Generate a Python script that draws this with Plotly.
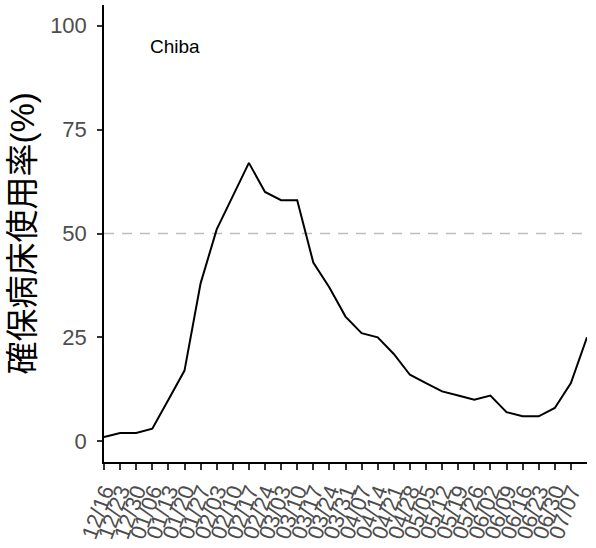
import plotly.graph_objects as go

# weekly bed occupancy, Chiba
dates = [
    "2021-12-16", "2021-12-23", "2021-12-30", "2022-01-06", "2022-01-13",
    "2022-01-20", "2022-01-27", "2022-02-03", "2022-02-10", "2022-02-17",
    "2022-02-24", "2022-03-03", "2022-03-10", "2022-03-17", "2022-03-24",
    "2022-03-31", "2022-04-07", "2022-04-14", "2022-04-21", "2022-04-28",
    "2022-05-05", "2022-05-12", "2022-05-19", "2022-05-26", "2022-06-02",
    "2022-06-09", "2022-06-16", "2022-06-23", "2022-06-30", "2022-07-07",
    "2022-07-14",
]
occupancy = [1, 2, 2, 3, 10, 17, 38, 51, 59, 67,
             60, 58, 58, 43, 37, 30, 26, 25, 21, 16,
             14, 12, 11, 10, 11, 7, 6, 6, 8, 14, 25]

tick_dates = dates[:30]
tick_text = [d[5:7] + "/" + d[8:10] for d in tick_dates]
y_ticks = [0, 25, 50, 75, 100]

FONT = "Liberation Sans, Arial, Noto Sans CJK JP"

fig = go.Figure()
fig.add_trace(go.Scatter(
    x=dates, y=occupancy,
    mode="lines",
    line=dict(color="black", width=2),
    hoverinfo="skip",
    cliponaxis=False,
))

# 50% reference line
fig.add_hline(y=50, line=dict(color="#BEBEBE", width=1.5, dash="10px,8px"), layer="below")

fig.add_annotation(
    x="2022-01-16", y=95, text="Chiba", showarrow=False,
    font=dict(family=FONT, size=19, color="black"),
)

# y title as annotation so it sits where ggplot put it
fig.add_annotation(
    xref="paper", yref="paper", x=-82 / 483, y=0.5,
    xanchor="center", yanchor="middle", textangle=-90,
    text="確保病床使用率(%)", showarrow=False,
    font=dict(family=FONT, size=33, color="black"),
)

fig.update_layout(
    width=596, height=548,
    margin=dict(l=104, r=9, t=5, b=86, autoexpand=False),
    plot_bgcolor="white", paper_bgcolor="white",
    showlegend=False,
    font=dict(family=FONT),
)
fig.update_xaxes(
    type="date",
    range=["2021-12-16 00:00", "2022-07-14 00:00"],
    autorange=False,
    automargin=False,
    tickvals=tick_dates, ticktext=tick_text,
    tickangle=-70,
    tickfont=dict(family=FONT, size=22, color="#4D4D4D"),
    ticks="outside", ticklen=6, tickwidth=1.5, tickcolor="#333333",
    showline=True, linecolor="black", linewidth=1.5,
    showgrid=False, zeroline=False,
)
fig.update_yaxes(
    range=[-5, 105],
    autorange=False,
    automargin=False,
    tickvals=y_ticks,
    tickfont=dict(family=FONT, size=22, color="#4D4D4D"),
    ticks="outside", ticklen=5, tickwidth=1.5, tickcolor="#333333",
    ticklabelstandoff=6,
    showline=True, linecolor="black", linewidth=1.5,
    showgrid=False, zeroline=False,
)

fig.write_html("out.html", config={"displayModeBar": False},
               post_script="document.body.style.margin='0';")
